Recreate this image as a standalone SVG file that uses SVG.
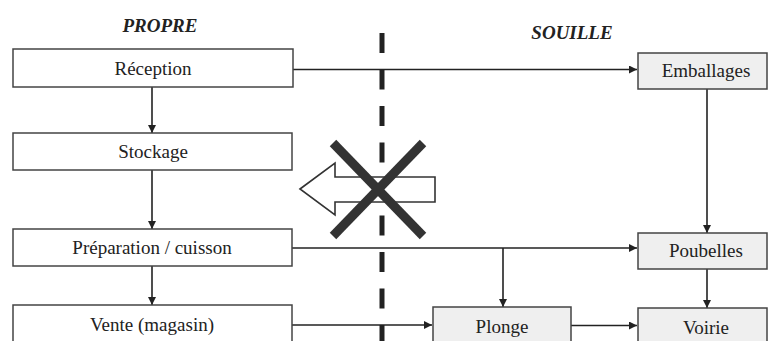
<svg xmlns="http://www.w3.org/2000/svg" width="768" height="341" viewBox="0 0 768 341">
<defs>
<marker id="ah" viewBox="0 0 10 10" refX="10" refY="5" markerWidth="9" markerHeight="8" markerUnits="userSpaceOnUse" orient="auto">
<path d="M0,0 L10,5 L0,10 Z" fill="#222"/>
</marker>
</defs>
<style>
.box{fill:#ffffff;stroke:#444;stroke-width:1.5}
.sbox{fill:#efefef;stroke:#444;stroke-width:1.5}
text{font-family:"Liberation Serif","Times New Roman","DejaVu Serif",serif;fill:#222;text-anchor:middle}
.lbl{font-size:19px}
.hdr{font-size:19px;font-weight:bold;font-style:italic}
.con{fill:none;stroke:#222;stroke-width:1.6}
</style>
<rect width="768" height="341" fill="#ffffff"/>
<text class="hdr" x="160" y="32">PROPRE</text>
<text class="hdr" x="572" y="39">SOUILLE</text>
<line x1="382" y1="33" x2="382" y2="341" stroke="#222" stroke-width="5" stroke-dasharray="20 16.5"/>
<g id="connectors">
<line class="con" x1="293" y1="69.5" x2="637" y2="69.5" marker-end="url(#ah)"/>
<line class="con" x1="152" y1="87" x2="152" y2="133" marker-end="url(#ah)"/>
<line class="con" x1="152" y1="170" x2="152" y2="229" marker-end="url(#ah)"/>
<line class="con" x1="152" y1="266" x2="152" y2="305" marker-end="url(#ah)"/>
<line class="con" x1="292" y1="248" x2="637" y2="248" marker-end="url(#ah)"/>
<line class="con" x1="503" y1="248" x2="503" y2="307" marker-end="url(#ah)"/>
<line class="con" x1="292" y1="325" x2="432" y2="325" marker-end="url(#ah)"/>
<line class="con" x1="571" y1="325.5" x2="637" y2="325.5" marker-end="url(#ah)"/>
<line class="con" x1="707" y1="89" x2="707" y2="233" marker-end="url(#ah)"/>
<line class="con" x1="707" y1="269" x2="707" y2="308" marker-end="url(#ah)"/>
</g>
<g id="reception"><rect class="box" x="13" y="49" width="280" height="38"/><text class="lbl" x="153" y="75">Réception</text></g>
<g id="stockage"><rect class="box" x="13" y="133" width="279" height="37"/><text class="lbl" x="153" y="158">Stockage</text></g>
<g id="preparation"><rect class="box" x="13" y="229" width="279" height="37"/><text class="lbl" x="152" y="254">Préparation / cuisson</text></g>
<g id="vente"><rect class="box" x="13" y="305" width="279" height="42"/><text class="lbl" x="152" y="331">Vente (magasin)</text></g>
<g id="emballages"><rect class="sbox" x="638" y="53" width="129" height="36"/><text class="lbl" x="706" y="77">Emballages</text></g>
<g id="poubelles"><rect class="sbox" x="638" y="233" width="129" height="36"/><text class="lbl" x="706" y="257">Poubelles</text></g>
<g id="plonge"><rect class="sbox" x="433" y="307" width="138" height="40"/><text class="lbl" x="502" y="333">Plonge</text></g>
<g id="voirie"><rect class="sbox" x="638" y="308" width="129" height="40"/><text class="lbl" x="706" y="334">Voirie</text></g>
<g id="forbidden">
<path d="M300,189 L335,163 L335,177 L435,177 L435,202 L335,202 L335,215 Z" fill="#ffffff" stroke="#333" stroke-width="1.6"/>
<line x1="333" y1="143" x2="423" y2="236" stroke="#333" stroke-width="9"/>
<line x1="423" y1="143" x2="333" y2="236" stroke="#333" stroke-width="9"/>
</g>
</svg>
